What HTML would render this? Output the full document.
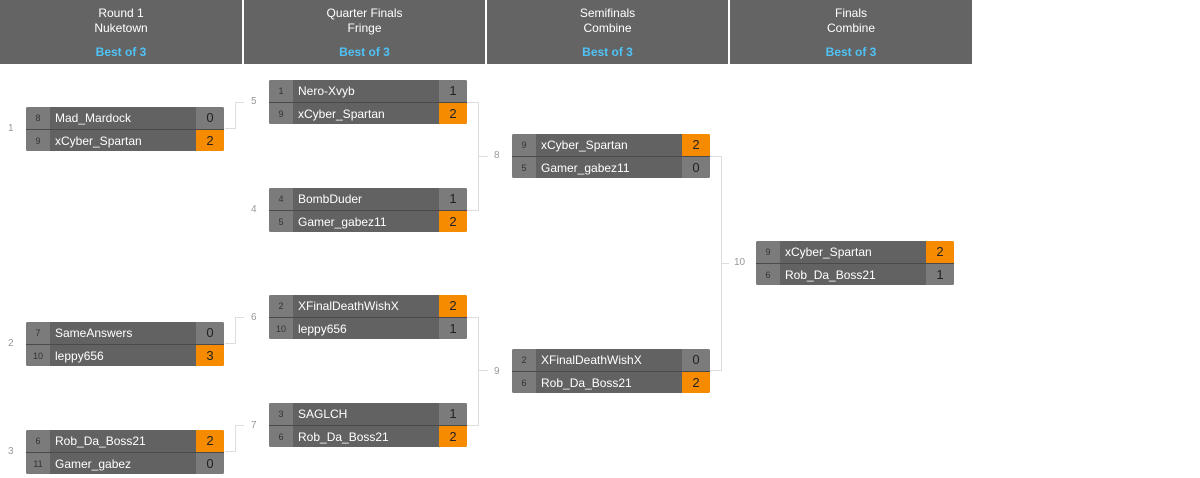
<!DOCTYPE html>
<html><head><style>
body{margin:0;width:1200px;height:478px;background:#fff;position:relative;font-family:"Liberation Sans",Arial,sans-serif;overflow:hidden}
.h{position:absolute;top:0;height:64px;background:#646464;color:#fff;text-align:center;font-size:12px}
.h .t{position:absolute;top:6px;left:0;right:0;line-height:15px}
.h .b{position:absolute;top:45px;left:0;right:0;color:#4fc3f7;font-weight:bold}
.m{position:absolute;width:198px;height:44px;border-radius:2px;overflow:hidden;background:#626262}
.r{position:absolute;left:0;width:198px;height:22px}
.r2{top:22px;border-top:1px solid #4a4a4a;height:21px}
.s{position:absolute;left:0;top:0;width:24px;height:100%;background:#7b7b7b;color:#333;font-size:9px;text-align:center;line-height:22px}
.n{position:absolute;left:29px;top:0;color:#fff;font-size:12px;line-height:22px}
.sc{position:absolute;right:0;top:0;width:28px;height:100%;background:#7b7b7b;color:#222;font-size:13px;text-align:center;line-height:22px}
.w{background:#f78b00}
.l{position:absolute;color:#999;font-size:10px}
.c{position:absolute;border:1px solid #ddd;border-left:none}
.hl{position:absolute;height:0;border-top:1px solid #ddd}
</style></head><body>
<div class="h" style="left:0;width:242px"><div class="t">Round 1<br>Nuketown</div><div class="b">Best of 3</div></div>
<div class="h" style="left:244px;width:241px"><div class="t">Quarter Finals<br>Fringe</div><div class="b">Best of 3</div></div>
<div class="h" style="left:487px;width:241px"><div class="t">Semifinals<br>Combine</div><div class="b">Best of 3</div></div>
<div class="h" style="left:730px;width:242px"><div class="t">Finals<br>Combine</div><div class="b">Best of 3</div></div>

<!-- R1 -->
<div class="m" style="left:26px;top:107px"><div class="r"><div class="s">8</div><div class="n">Mad_Mardock</div><div class="sc">0</div></div><div class="r r2"><div class="s">9</div><div class="n">xCyber_Spartan</div><div class="sc w">2</div></div></div>
<div class="l" style="left:8px;top:123px">1</div>
<div class="m" style="left:26px;top:322px"><div class="r"><div class="s">7</div><div class="n">SameAnswers</div><div class="sc">0</div></div><div class="r r2"><div class="s">10</div><div class="n">leppy656</div><div class="sc w">3</div></div></div>
<div class="l" style="left:8px;top:338px">2</div>
<div class="m" style="left:26px;top:430px"><div class="r"><div class="s">6</div><div class="n">Rob_Da_Boss21</div><div class="sc w">2</div></div><div class="r r2"><div class="s">11</div><div class="n">Gamer_gabez</div><div class="sc">0</div></div></div>
<div class="l" style="left:8px;top:446px">3</div>

<!-- R1 connectors -->
<div class="hl" style="left:225px;top:128px;width:10px"></div>
<div style="position:absolute;left:235px;top:102px;width:0;height:27px;border-left:1px solid #ddd"></div>
<div class="hl" style="left:235px;top:102px;width:9px"></div>
<div class="hl" style="left:225px;top:343px;width:10px"></div>
<div style="position:absolute;left:235px;top:317px;width:0;height:27px;border-left:1px solid #ddd"></div>
<div class="hl" style="left:235px;top:317px;width:9px"></div>
<div class="hl" style="left:225px;top:451px;width:10px"></div>
<div style="position:absolute;left:235px;top:425px;width:0;height:27px;border-left:1px solid #ddd"></div>
<div class="hl" style="left:235px;top:425px;width:9px"></div>

<!-- QF -->
<div class="l" style="left:251px;top:96px">5</div>
<div class="m" style="left:269px;top:80px"><div class="r"><div class="s">1</div><div class="n">Nero-Xvyb</div><div class="sc">1</div></div><div class="r r2"><div class="s">9</div><div class="n">xCyber_Spartan</div><div class="sc w">2</div></div></div>
<div class="l" style="left:251px;top:204px">4</div>
<div class="m" style="left:269px;top:188px"><div class="r"><div class="s">4</div><div class="n">BombDuder</div><div class="sc">1</div></div><div class="r r2"><div class="s">5</div><div class="n">Gamer_gabez11</div><div class="sc w">2</div></div></div>
<div class="l" style="left:251px;top:312px">6</div>
<div class="m" style="left:269px;top:295px"><div class="r"><div class="s">2</div><div class="n">XFinalDeathWishX</div><div class="sc w">2</div></div><div class="r r2"><div class="s">10</div><div class="n">leppy656</div><div class="sc">1</div></div></div>
<div class="l" style="left:251px;top:420px">7</div>
<div class="m" style="left:269px;top:403px"><div class="r"><div class="s">3</div><div class="n">SAGLCH</div><div class="sc">1</div></div><div class="r r2"><div class="s">6</div><div class="n">Rob_Da_Boss21</div><div class="sc w">2</div></div></div>

<div class="c" style="left:467px;top:102px;width:11px;height:107px"></div>
<div class="hl" style="left:479px;top:156px;width:9px"></div>
<div class="c" style="left:467px;top:317px;width:11px;height:107px"></div>
<div class="hl" style="left:479px;top:370px;width:9px"></div>

<!-- SF -->
<div class="l" style="left:494px;top:150px">8</div>
<div class="m" style="left:512px;top:134px"><div class="r"><div class="s">9</div><div class="n">xCyber_Spartan</div><div class="sc w">2</div></div><div class="r r2"><div class="s">5</div><div class="n">Gamer_gabez11</div><div class="sc">0</div></div></div>
<div class="l" style="left:494px;top:366px">9</div>
<div class="m" style="left:512px;top:349px"><div class="r"><div class="s">2</div><div class="n">XFinalDeathWishX</div><div class="sc">0</div></div><div class="r r2"><div class="s">6</div><div class="n">Rob_Da_Boss21</div><div class="sc w">2</div></div></div>

<div class="c" style="left:710px;top:156px;width:11px;height:213px"></div>
<div class="hl" style="left:722px;top:263px;width:7px"></div>

<!-- F -->
<div class="l" style="left:734px;top:257px">10</div>
<div class="m" style="left:756px;top:241px"><div class="r"><div class="s">9</div><div class="n">xCyber_Spartan</div><div class="sc w">2</div></div><div class="r r2"><div class="s">6</div><div class="n">Rob_Da_Boss21</div><div class="sc">1</div></div></div>
</body></html>
